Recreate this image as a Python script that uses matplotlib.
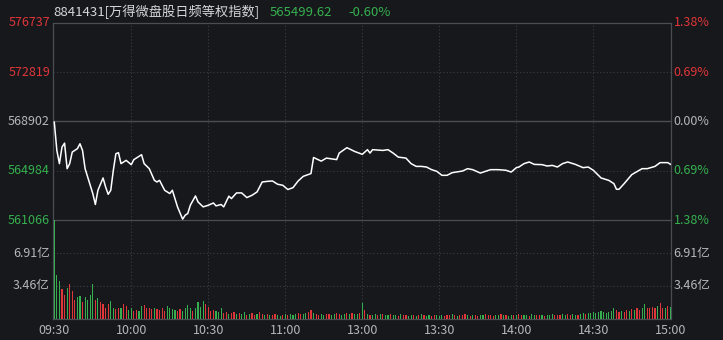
import matplotlib

matplotlib.use("Agg")

import matplotlib.pyplot as plt
import matplotlib.transforms as mtransforms
import numpy as np

plt.rcParams["font.family"] = ["Noto Sans CJK SC", "DejaVu Sans"]

# --- data ------------------------------------------------------------------
TITLE_NAME = "8841431[万得微盘股日频等权指数]"
LAST_PRICE = "565499.62"
LAST_PCT = "-0.60%"
PRE_CLOSE = 568902

# trading-minute index (0 = 09:30, 120 = 11:30/13:00, 240 = 15:00)
price_minutes = [
    0, 1, 2, 3, 4, 5, 6, 7, 9, 10,
    11, 12, 13, 15, 16, 17, 19, 20, 21, 22,
    23, 24, 25, 26, 28, 30, 31, 34, 35, 37,
    39, 40, 41, 42, 43, 45, 46, 47, 48, 50,
    51, 52, 53, 55, 56, 58, 60, 62, 63, 65,
    66, 68, 69, 71, 73, 75, 77, 79, 81, 83,
    85, 87, 89, 91, 93, 95, 97, 100, 101, 104,
    106, 110, 111, 114, 117, 120, 122, 123, 124, 128,
    130, 132, 134, 137, 139, 141, 143, 145, 147, 149,
    151, 153, 155, 159, 161, 163, 166, 168, 170, 173,
    176, 178, 180, 181, 183, 185, 187, 190, 192, 194,
    196, 198, 200, 203, 206, 208, 210, 213, 216, 218,
    219, 220, 222, 225, 229, 231, 234, 236, 239, 240,
]
price_values = [
    568850, 566600, 565550, 566860, 567180, 565150, 565550, 566470, 566740, 567130,
    566600, 565150, 564490, 563170, 562300, 563430, 564410, 563690, 563110, 563430,
    565020, 566340, 566420, 565550, 565810, 565470, 565870, 566260, 565550, 565150,
    564220, 564090, 564220, 563830, 563430, 563170, 563430, 562770, 562110, 561130,
    561450, 561580, 562240, 562980, 562500, 562110, 562240, 562420, 562190, 562300,
    562110, 562960, 562770, 563220, 563220, 562850, 563030, 563300, 564090, 564140,
    564170, 563910, 563830, 563490, 563640, 564170, 564540, 564760, 566040, 565750,
    565990, 565870, 566390, 566820, 566520, 566290, 566660, 566390, 566660, 566600,
    566660, 566390, 566070, 565990, 565550, 565330, 565330, 565280, 565070, 564940,
    564620, 564620, 564830, 564960, 565150, 565070, 564800, 564940, 565070, 565070,
    565020, 564880, 565230, 565280, 565550, 565680, 565490, 565470, 565360, 565410,
    565280, 565550, 565680, 565490, 565230, 565280, 565020, 564410, 564220, 563960,
    563510, 563510, 563960, 564680, 565150, 565150, 565330, 565630, 565630, 565499.62,
]

# per-minute turnover, 亿
volume_values = [
    10.37, 4.65, 4.0, 3.14, 2.54, 3.24, 3.70, 2.89, 2.0, 2.29,
    2.36, 1.83, 2.29, 2.0, 2.5, 3.70, 2.0, 2.2, 1.8, 1.6,
    1.2, 1.6, 1.9, 1.2, 1.0, 1.2, 1.2, 1.6, 1.4, 0.9,
    1.2, 0.8, 0.9, 0.8, 1.4, 1.5, 1.1, 1.1, 1.0, 1.1,
    1.0, 0.9, 1.2, 0.8, 1.4, 1.1, 1.0, 0.9, 0.8, 1.0,
    0.8, 1.1, 1.5, 1.2, 0.8, 1.1, 1.8, 1.3, 1.9, 1.6,
    1.3, 0.8, 0.9, 0.8, 0.7, 1.1, 0.6, 0.7, 0.5, 0.6,
    0.7, 0.5, 0.6, 0.5, 0.7, 0.4, 0.5, 0.6, 0.4, 0.5,
    0.7, 0.5, 0.4, 0.5, 0.4, 0.4, 0.5, 0.4, 0.3, 0.4,
    0.5, 0.4, 0.5, 0.4, 0.5, 0.6, 0.5, 0.5, 0.6, 0.7,
    0.9, 0.6, 0.5, 0.4, 0.5, 0.4, 0.5, 0.5, 0.4, 0.5,
    0.6, 0.5, 0.4, 0.5, 0.6, 0.5, 0.6, 0.5, 0.5, 0.6,
    1.7, 0.9, 0.5, 0.4, 0.4, 0.5, 0.4, 0.5, 0.5, 0.4,
    0.4, 0.5, 0.4, 0.4, 0.3, 0.5, 0.4, 0.4, 0.3, 0.4,
    0.4, 0.3, 0.4, 0.5, 0.4, 0.3, 0.4, 0.3, 0.4, 0.4,
    0.3, 0.4, 0.3, 0.4, 0.4, 0.5, 0.4, 0.3, 0.4, 0.4,
    0.5, 0.4, 0.3, 0.4, 0.4, 0.3, 0.4, 0.4, 0.5, 0.4,
    0.4, 0.3, 0.4, 0.4, 0.5, 0.4, 0.4, 0.3, 0.4, 0.4,
    0.4, 0.5, 0.4, 0.4, 0.4, 0.3, 0.5, 0.4, 0.4, 0.4,
    0.4, 0.3, 0.4, 0.4, 0.5, 0.4, 0.4, 0.4, 0.5, 0.4,
    0.5, 0.4, 0.5, 0.4, 0.4, 0.5, 0.6, 0.5, 0.6, 0.6,
    0.7, 0.6, 0.7, 0.8, 0.7, 0.6, 0.7, 0.8, 1.1, 0.9,
    0.7, 0.8, 0.7, 0.9, 0.8, 1.0, 0.9, 1.1, 0.9, 1.2,
    1.6, 1.2, 1.1, 1.3, 1.2, 1.4, 1.7, 1.1, 1.2, 1.4, 1.3,
]
# g = down minute (green), r = up minute (red)
volume_dirs = (
    "gggrrgrrrg" "grggggrgrr" "rrggrrgrrg" "grrggrrrrg" "rrrrggggrr"
    "ggggrggggr" "rrrgggrrgr" "rgrggrgrrg" "rrgrgrrggr" "grgggrrggr"
    "rgrrggrrgg" "rrggrgrggr" "grgrggrgrg" "grggrgrrgg" "rgrgrggrrg"
    "ggrrrgrgrr" "rgrgrrggrr" "rrggrgrggr" "grrggrggrr" "grgggrrrgg"
    "rrggrggrgg" "gggggggggr" "rgrrgrgrrg" "grrrrgrrgrg"
)

time_ticks = [0, 30, 60, 90, 120, 150, 180, 210, 240]
time_labels = ["09:30", "10:00", "10:30", "11:00", "13:00", "13:30", "14:00", "14:30", "15:00"]
price_ticks = [576737, 572819, 568902, 564984, 561066]
pct_labels = ["1.38%", "0.69%", "0.00%", "0.69%", "1.38%"]
vol_ticks = [3.46, 6.91]
vol_labels = ["3.46亿", "6.91亿"]
VOL_MAX = 10.37

# --- style -----------------------------------------------------------------
BG = "#16181c"
GRID = "#3a3d43"
FRAME = "#4a4d53"
RED = "#e0363a"
GREEN = "#36b04f"
NEUTRAL = "#b4b6ba"
TEXT = "#d4d6da"
FS = 9

fig = plt.figure(figsize=(7.23, 3.40), dpi=100, facecolor=BG)
left, right = 53 / 723, 671 / 723
ax_p = fig.add_axes([left, 1 - 220 / 340, right - left, 197 / 340], facecolor=BG)
ax_v = fig.add_axes([left, 1 - 319 / 340, right - left, 99 / 340], facecolor=BG)

for ax in (ax_p, ax_v):
    ax.set_xlim(-0.5, 240.25)
    ax.set_xticks([])
    ax.set_yticks([])
    for side in ("left", "right", "top", "bottom"):
        ax.spines[side].set_color(FRAME)
        ax.spines[side].set_linewidth(0.9)
    for m in time_ticks[1:-1]:
        ax.axvline(m, color=GRID, lw=0.8, ls=(0, (1, 2)), zorder=0)

# price panel
ax_p.set_ylim(price_ticks[-1], price_ticks[0])
ax_p.spines["bottom"].set_visible(False)
for p in price_ticks[1:-1]:
    if p == PRE_CLOSE:
        ax_p.axhline(p, color=FRAME, lw=1.0, zorder=0)
    else:
        ax_p.axhline(p, color=GRID, lw=0.8, ls=(0, (1, 2)), zorder=0)
ax_p.plot(price_minutes, price_values, color="white", lw=1.1, zorder=3)

trans_l = mtransforms.blended_transform_factory(ax_p.transAxes, ax_p.transData)
for p, pct in zip(price_ticks, pct_labels):
    col = RED if p > PRE_CLOSE else (GREEN if p < PRE_CLOSE else NEUTRAL)
    ax_p.text(-0.005, p, str(p), transform=trans_l, ha="right", va="center",
              fontsize=FS, color=col, clip_on=False)
    ax_p.text(1.004, p, pct, transform=trans_l, ha="left", va="center",
              fontsize=FS, color=col, clip_on=False)

# volume panel
ax_v.set_ylim(0, VOL_MAX)
for v in vol_ticks:
    ax_v.axhline(v, color=GRID, lw=0.8, ls=(0, (1, 2)), zorder=0)
vol_x = np.arange(len(volume_values))
vol_colors = [GREEN if d == "g" else RED for d in volume_dirs[: len(volume_values)]]
ax_v.bar(vol_x, volume_values, width=0.45, color=vol_colors, linewidth=0, zorder=3)

trans_v = mtransforms.blended_transform_factory(ax_v.transAxes, ax_v.transData)
for v, lab in zip(vol_ticks, vol_labels):
    ax_v.text(-0.005, v, lab, transform=trans_v, ha="right", va="center",
              fontsize=FS, color=NEUTRAL, clip_on=False)
    ax_v.text(1.004, v, lab, transform=trans_v, ha="left", va="center",
              fontsize=FS, color=NEUTRAL, clip_on=False)

trans_x = mtransforms.blended_transform_factory(ax_v.transData, ax_v.transAxes)
for m, lab in zip(time_ticks, time_labels):
    ax_v.text(m, -0.12, lab, transform=trans_x, ha="center", va="center",
              fontsize=FS, color=NEUTRAL, clip_on=False)

# header line
fig.text(53 / 723, 1 - 12 / 340, TITLE_NAME, ha="left", va="center", fontsize=9.5, color=TEXT)
fig.text(270 / 723, 1 - 12 / 340, LAST_PRICE, ha="left", va="center", fontsize=9.5, color=GREEN)
fig.text(348 / 723, 1 - 12 / 340, LAST_PCT, ha="left", va="center", fontsize=9.5, color=GREEN)

fig.savefig("out.png", dpi=100, facecolor=BG)
plt.close(fig)
